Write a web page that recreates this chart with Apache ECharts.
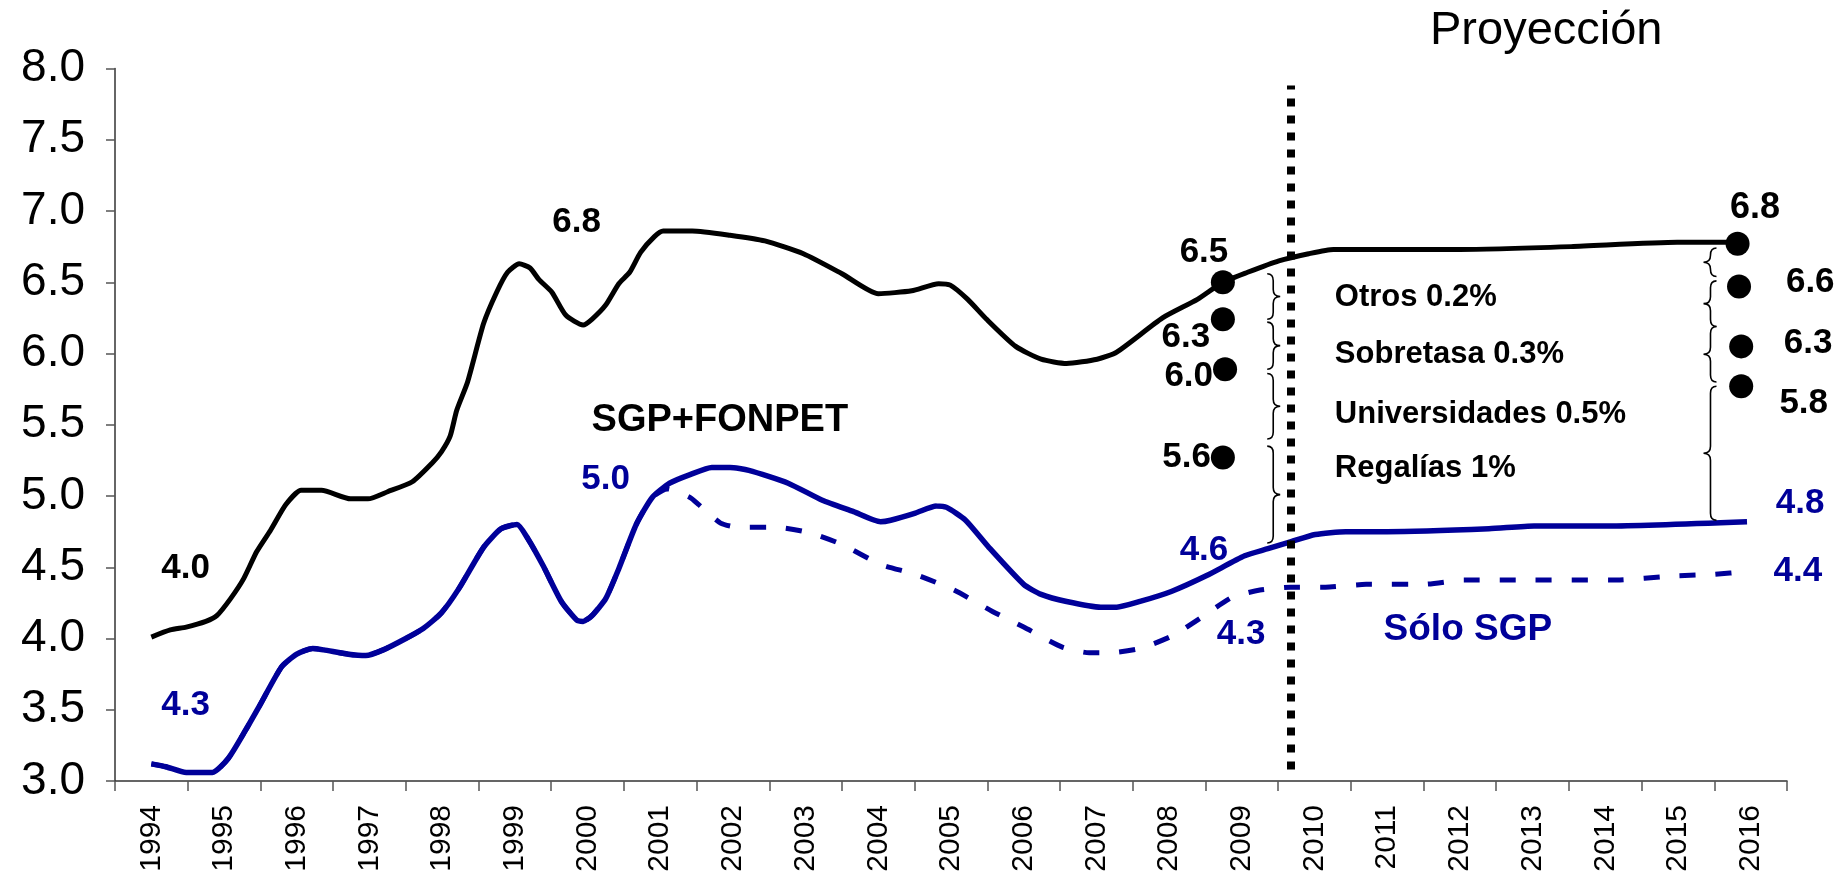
<!DOCTYPE html>
<html>
<head>
<meta charset="utf-8">
<title>SGP proyección</title>
<script src="https://cdn.jsdelivr.net/npm/echarts@6/dist/echarts.min.js"></script>
<style>
  html, body { margin: 0; padding: 0; background: #fff; }
  #main { width: 1841px; height: 875px; }
</style>
</head>
<body>
<div id="main"></div>
<script>
  // categorias del eje x
  var years = ['1994', '1995', '1996', '1997', '1998', '1999', '2000', '2001', '2002', '2003', '2004', '2005',
    '2006', '2007', '2008', '2009', '2010', '2011', '2012', '2013', '2014', '2015', '2016'];

  // SGP+FONPET (linea negra) [año, valor]
  var sgpFonpet = [
    [1994.0, 4.01], [1994.26, 4.06], [1994.48, 4.08], [1994.75, 4.12], [1994.9, 4.16], [1995.09, 4.28],
    [1995.27, 4.42], [1995.45, 4.61], [1995.64, 4.76], [1995.85, 4.94], [1996.06, 5.04], [1996.34, 5.04],
    [1996.74, 4.98], [1996.98, 4.98], [1997.25, 5.03], [1997.59, 5.10], [1997.86, 5.23], [1997.99, 5.31],
    [1998.11, 5.42], [1998.2, 5.60], [1998.35, 5.80], [1998.57, 6.21], [1998.75, 6.43], [1998.9, 6.57],
    [1999.06, 6.63], [1999.21, 6.60], [1999.33, 6.52], [1999.51, 6.43], [1999.7, 6.27], [1999.94, 6.20],
    [2000.06, 6.24], [2000.25, 6.34], [2000.43, 6.49], [2000.58, 6.57], [2000.73, 6.71], [2000.92, 6.82],
    [2001.04, 6.86], [2001.44, 6.86], [2001.96, 6.83], [2002.44, 6.79], [2002.97, 6.70], [2003.5, 6.56],
    [2004.0, 6.42], [2004.46, 6.44], [2004.83, 6.49], [2004.99, 6.48], [2005.23, 6.38], [2005.49, 6.24],
    [2005.89, 6.05], [2006.24, 5.96], [2006.59, 5.93], [2007.01, 5.96], [2007.28, 6.01], [2007.91, 6.25],
    [2008.39, 6.38], [2008.74, 6.50], [2009.08, 6.57], [2009.51, 6.65], [2009.92, 6.70], [2010.26, 6.73],
    [2012.0, 6.73], [2013.53, 6.75], [2014.99, 6.78], [2015.82, 6.78]
  ];

  // SGP (linea azul continua)
  var sgp = [
    [1994.0, 3.12], [1994.2, 3.10], [1994.48, 3.06], [1994.84, 3.06], [1995.06, 3.16], [1995.3, 3.36],
    [1995.48, 3.52], [1995.79, 3.80], [1996.0, 3.89], [1996.22, 3.93], [1996.37, 3.92], [1996.71, 3.89],
    [1996.95, 3.88], [1997.19, 3.92], [1997.5, 4.00], [1997.74, 4.07], [1997.99, 4.18], [1998.23, 4.35],
    [1998.57, 4.64], [1998.81, 4.77], [1999.03, 4.80], [1999.18, 4.70], [1999.39, 4.51], [1999.64, 4.26],
    [1999.85, 4.13], [1999.94, 4.12], [2000.06, 4.16], [2000.25, 4.28], [2000.43, 4.49], [2000.67, 4.80],
    [2000.89, 4.99], [2001.13, 5.09], [2001.41, 5.15], [2001.71, 5.20], [2001.96, 5.20], [2002.22, 5.18],
    [2002.76, 5.09], [2003.23, 4.97], [2003.66, 4.89], [2004.03, 4.82], [2004.17, 4.83], [2004.51, 4.88],
    [2004.8, 4.93], [2004.94, 4.92], [2005.2, 4.83], [2005.52, 4.64], [2006.0, 4.38], [2006.24, 4.31],
    [2006.59, 4.26], [2007.06, 4.22], [2007.28, 4.22], [2007.6, 4.26], [2008.03, 4.33], [2008.51, 4.44],
    [2009.04, 4.58], [2009.36, 4.63], [2009.68, 4.68], [2010.01, 4.73], [2010.43, 4.75], [2011.0, 4.75],
    [2012.4, 4.77], [2013.02, 4.79], [2014.04, 4.79], [2015.95, 4.82]
  ];

  // Sólo SGP (linea azul punteada)
  var soloSgp = [
    [1994.0, 3.12], [1994.2, 3.10], [1994.48, 3.06], [1994.84, 3.06], [1995.06, 3.16], [1995.3, 3.36],
    [1995.48, 3.52], [1995.79, 3.80], [1996.0, 3.89], [1996.22, 3.93], [1996.37, 3.92], [1996.71, 3.89],
    [1996.95, 3.88], [1997.19, 3.92], [1997.5, 4.00], [1997.74, 4.07], [1997.99, 4.18], [1998.23, 4.35],
    [1998.57, 4.64], [1998.81, 4.77], [1999.03, 4.80], [1999.18, 4.70], [1999.39, 4.51], [1999.64, 4.26],
    [1999.85, 4.13], [1999.94, 4.12], [2000.06, 4.16], [2000.25, 4.28], [2000.43, 4.49], [2000.67, 4.80],
    [2000.89, 4.99], [2001.1, 5.05], [2001.41, 4.99], [2001.53, 4.94], [2001.83, 4.81], [2002.08, 4.78],
    [2002.6, 4.78], [2003.07, 4.74], [2003.5, 4.66], [2004.03, 4.52], [2004.51, 4.45], [2005.04, 4.34],
    [2005.57, 4.19], [2006.0, 4.08], [2006.53, 3.94], [2006.9, 3.90], [2007.17, 3.90], [2007.6, 3.93],
    [2008.05, 4.02], [2008.45, 4.15], [2008.87, 4.29], [2009.25, 4.34], [2009.67, 4.36], [2010.15, 4.36],
    [2010.71, 4.38], [2011.5, 4.38], [2012.06, 4.41], [2012.96, 4.41], [2014.09, 4.41], [2014.99, 4.44],
    [2015.5, 4.45], [2015.95, 4.47]
  ];

  // puntos de los escenarios 2009 y 2016
  var dots = [
    [2008.74, 6.50], [2008.74, 6.24], [2008.77, 5.89], [2008.74, 5.27],
    [2015.82, 6.77], [2015.84, 6.47], [2015.87, 6.05], [2015.87, 5.77]
  ];

  // llaves: [x, valor arriba, valor abajo, direccion]
  var braces = [
    [2009.35, 6.56, 6.24, 1], [2009.35, 6.22, 5.89, 1], [2009.35, 5.86, 5.40, 1], [2009.35, 5.35, 4.67, 1],
    [2015.53, 6.74, 6.54, -1], [2015.53, 6.51, 6.19, -1], [2015.53, 6.19, 5.80, -1], [2015.53, 5.77, 4.83, -1]
  ];

  // inicio de la proyeccion (linea vertical)
  var proyeccionX = 2009.67;

  var BLUE = '#000099';
  var BLACK = '#000000';
  var FONT = "'Liberation Sans', Arial, sans-serif";

  // textos sobre el grafico
  var notes = [
    { text: '6.8', at: [1999.85, 6.92], color: BLACK, size: 35 },
    { text: '4.0', at: [1994.47, 4.49], color: BLACK, size: 35 },
    { text: '4.3', at: [1994.47, 3.53], color: BLUE, size: 35 },
    { text: '5.0', at: [2000.25, 5.12], color: BLUE, size: 35 },
    { text: 'SGP+FONPET', at: [2001.82, 5.53], color: BLACK, size: 38 },
    { text: '6.5', at: [2008.48, 6.71], color: BLACK, size: 35 },
    { text: '6.3', at: [2008.23, 6.11], color: BLACK, size: 35 },
    { text: '6.0', at: [2008.27, 5.84], color: BLACK, size: 35 },
    { text: '5.6', at: [2008.24, 5.27], color: BLACK, size: 35 },
    { text: '4.6', at: [2008.48, 4.62], color: BLUE, size: 35 },
    { text: '4.3', at: [2008.99, 4.03], color: BLUE, size: 35 },
    { text: 'Sólo SGP', at: [2012.11, 4.06], color: BLUE, size: 37 },
    { text: '6.8', at: [2016.06, 7.02], color: BLACK, size: 36 },
    { text: '6.6', at: [2016.82, 6.50], color: BLACK, size: 35 },
    { text: '6.3', at: [2016.79, 6.07], color: BLACK, size: 35 },
    { text: '5.8', at: [2016.73, 5.65], color: BLACK, size: 35 },
    { text: '4.8', at: [2016.68, 4.95], color: BLUE, size: 35 },
    { text: '4.4', at: [2016.65, 4.47], color: BLUE, size: 35 },
    { text: 'Otros 0.2%', at: [2010.28, 6.39], color: BLACK, size: 31, align: 'left' },
    { text: 'Sobretasa 0.3%', at: [2010.28, 5.99], color: BLACK, size: 31, align: 'left' },
    { text: 'Universidades 0.5%', at: [2010.28, 5.57], color: BLACK, size: 31, align: 'left' },
    { text: 'Regalías 1%', at: [2010.28, 5.19], color: BLACK, size: 31, align: 'left' }
  ];

  var myChart = echarts.init(document.getElementById('main'));

  function braceItem(params, api) {
    var top = api.coord([api.value(0), api.value(1)]);
    var bot = api.coord([api.value(0), api.value(2)]);
    var d = api.value(3);
    var x0 = top[0], y1 = top[1], y2 = bot[1];
    var ym = (y1 + y2) / 2;
    var x1 = x0 + d * 6, x2 = x0 + d * 13;
    var r = Math.min(7, (y2 - y1) / 4);
    var path = 'M' + x0 + ' ' + y1 +
      ' Q' + x1 + ' ' + y1 + ' ' + x1 + ' ' + (y1 + r) +
      ' L' + x1 + ' ' + (ym - r) +
      ' Q' + x1 + ' ' + ym + ' ' + x2 + ' ' + ym +
      ' Q' + x1 + ' ' + ym + ' ' + x1 + ' ' + (ym + r) +
      ' L' + x1 + ' ' + (y2 - r) +
      ' Q' + x1 + ' ' + y2 + ' ' + x0 + ' ' + y2;
    return {
      type: 'path',
      shape: { pathData: path },
      style: { stroke: BLACK, fill: null, lineWidth: 1.6 }
    };
  }

  function noteItem(params, api) {
    var n = notes[params.dataIndex];
    var p = api.coord(n.at);
    return {
      type: 'text',
      x: p[0],
      y: p[1],
      style: {
        text: n.text,
        fill: n.color,
        font: 'bold ' + n.size + 'px ' + FONT,
        align: n.align || 'center',
        verticalAlign: 'middle'
      }
    };
  }

  var option = {
    backgroundColor: '#fff',
    animation: false,
    textStyle: { fontFamily: FONT },
    graphic: [{
      type: 'text',
      left: 1430,
      top: 8,
      style: { text: 'Proyección', fill: BLACK, font: '47px ' + FONT }
    }],
    grid: { left: 115, right: 54, top: 68.5, bottom: 94, outerBoundsMode: 'none' },
    xAxis: [{
      type: 'category',
      data: years,
      boundaryGap: true,
      axisLine: { lineStyle: { color: '#333', width: 1.5 } },
      axisTick: { show: true, length: 10, lineStyle: { color: '#555', width: 1.5 } },
      axisLabel: { rotate: 90, fontSize: 30, color: BLACK, margin: 24, interval: 0 }
    }, {
      type: 'value',
      min: 1993.5,
      max: 2016.5,
      show: false
    }],
    yAxis: {
      type: 'value',
      min: 3,
      max: 8,
      interval: 0.5,
      splitLine: { show: false },
      axisLine: { show: true, lineStyle: { color: '#333', width: 1.5 } },
      axisTick: { show: true, length: 9, lineStyle: { color: '#555', width: 1.5 } },
      axisLabel: {
        fontSize: 46, color: BLACK, margin: 30,
        formatter: function (v) { return v.toFixed(1); }
      }
    },
    series: [{
      name: 'Sólo SGP',
      type: 'line',
      xAxisIndex: 1,
      data: soloSgp,
      smooth: 0.2,
      showSymbol: false,
      z: 2,
      lineStyle: { color: BLUE, width: 5, type: [16, 20] }
    }, {
      name: 'SGP',
      type: 'line',
      xAxisIndex: 1,
      data: sgp,
      smooth: 0.2,
      showSymbol: false,
      z: 3,
      lineStyle: { color: BLUE, width: 5.5 }
    }, {
      name: 'SGP+FONPET',
      type: 'line',
      xAxisIndex: 1,
      data: sgpFonpet,
      smooth: 0.2,
      showSymbol: false,
      z: 3,
      lineStyle: { color: BLACK, width: 5 }
    }, {
      name: 'escenarios',
      type: 'scatter',
      xAxisIndex: 1,
      data: dots,
      symbolSize: 24,
      itemStyle: { color: BLACK, opacity: 1 },
      z: 5,
      markLine: {
        silent: true,
        symbol: 'none',
        label: { show: false },
        lineStyle: { color: BLACK, width: 8, type: [8, 9], cap: 'butt', opacity: 1 },
        data: [[{ coord: [proyeccionX, 3.08] }, { coord: [proyeccionX, 7.88] }]]
      }
    }, {
      name: 'llaves',
      type: 'custom',
      xAxisIndex: 1,
      data: braces,
      encode: { x: 0, y: 1 },
      renderItem: braceItem,
      silent: true,
      z: 4
    }, {
      name: 'textos',
      type: 'custom',
      xAxisIndex: 1,
      data: notes.map(function (n) { return n.at; }),
      encode: { x: 0, y: 1 },
      renderItem: noteItem,
      silent: true,
      z: 6
    }]
  };

  // dibujar
  myChart.setOption(option);
</script>
</body>
</html>
